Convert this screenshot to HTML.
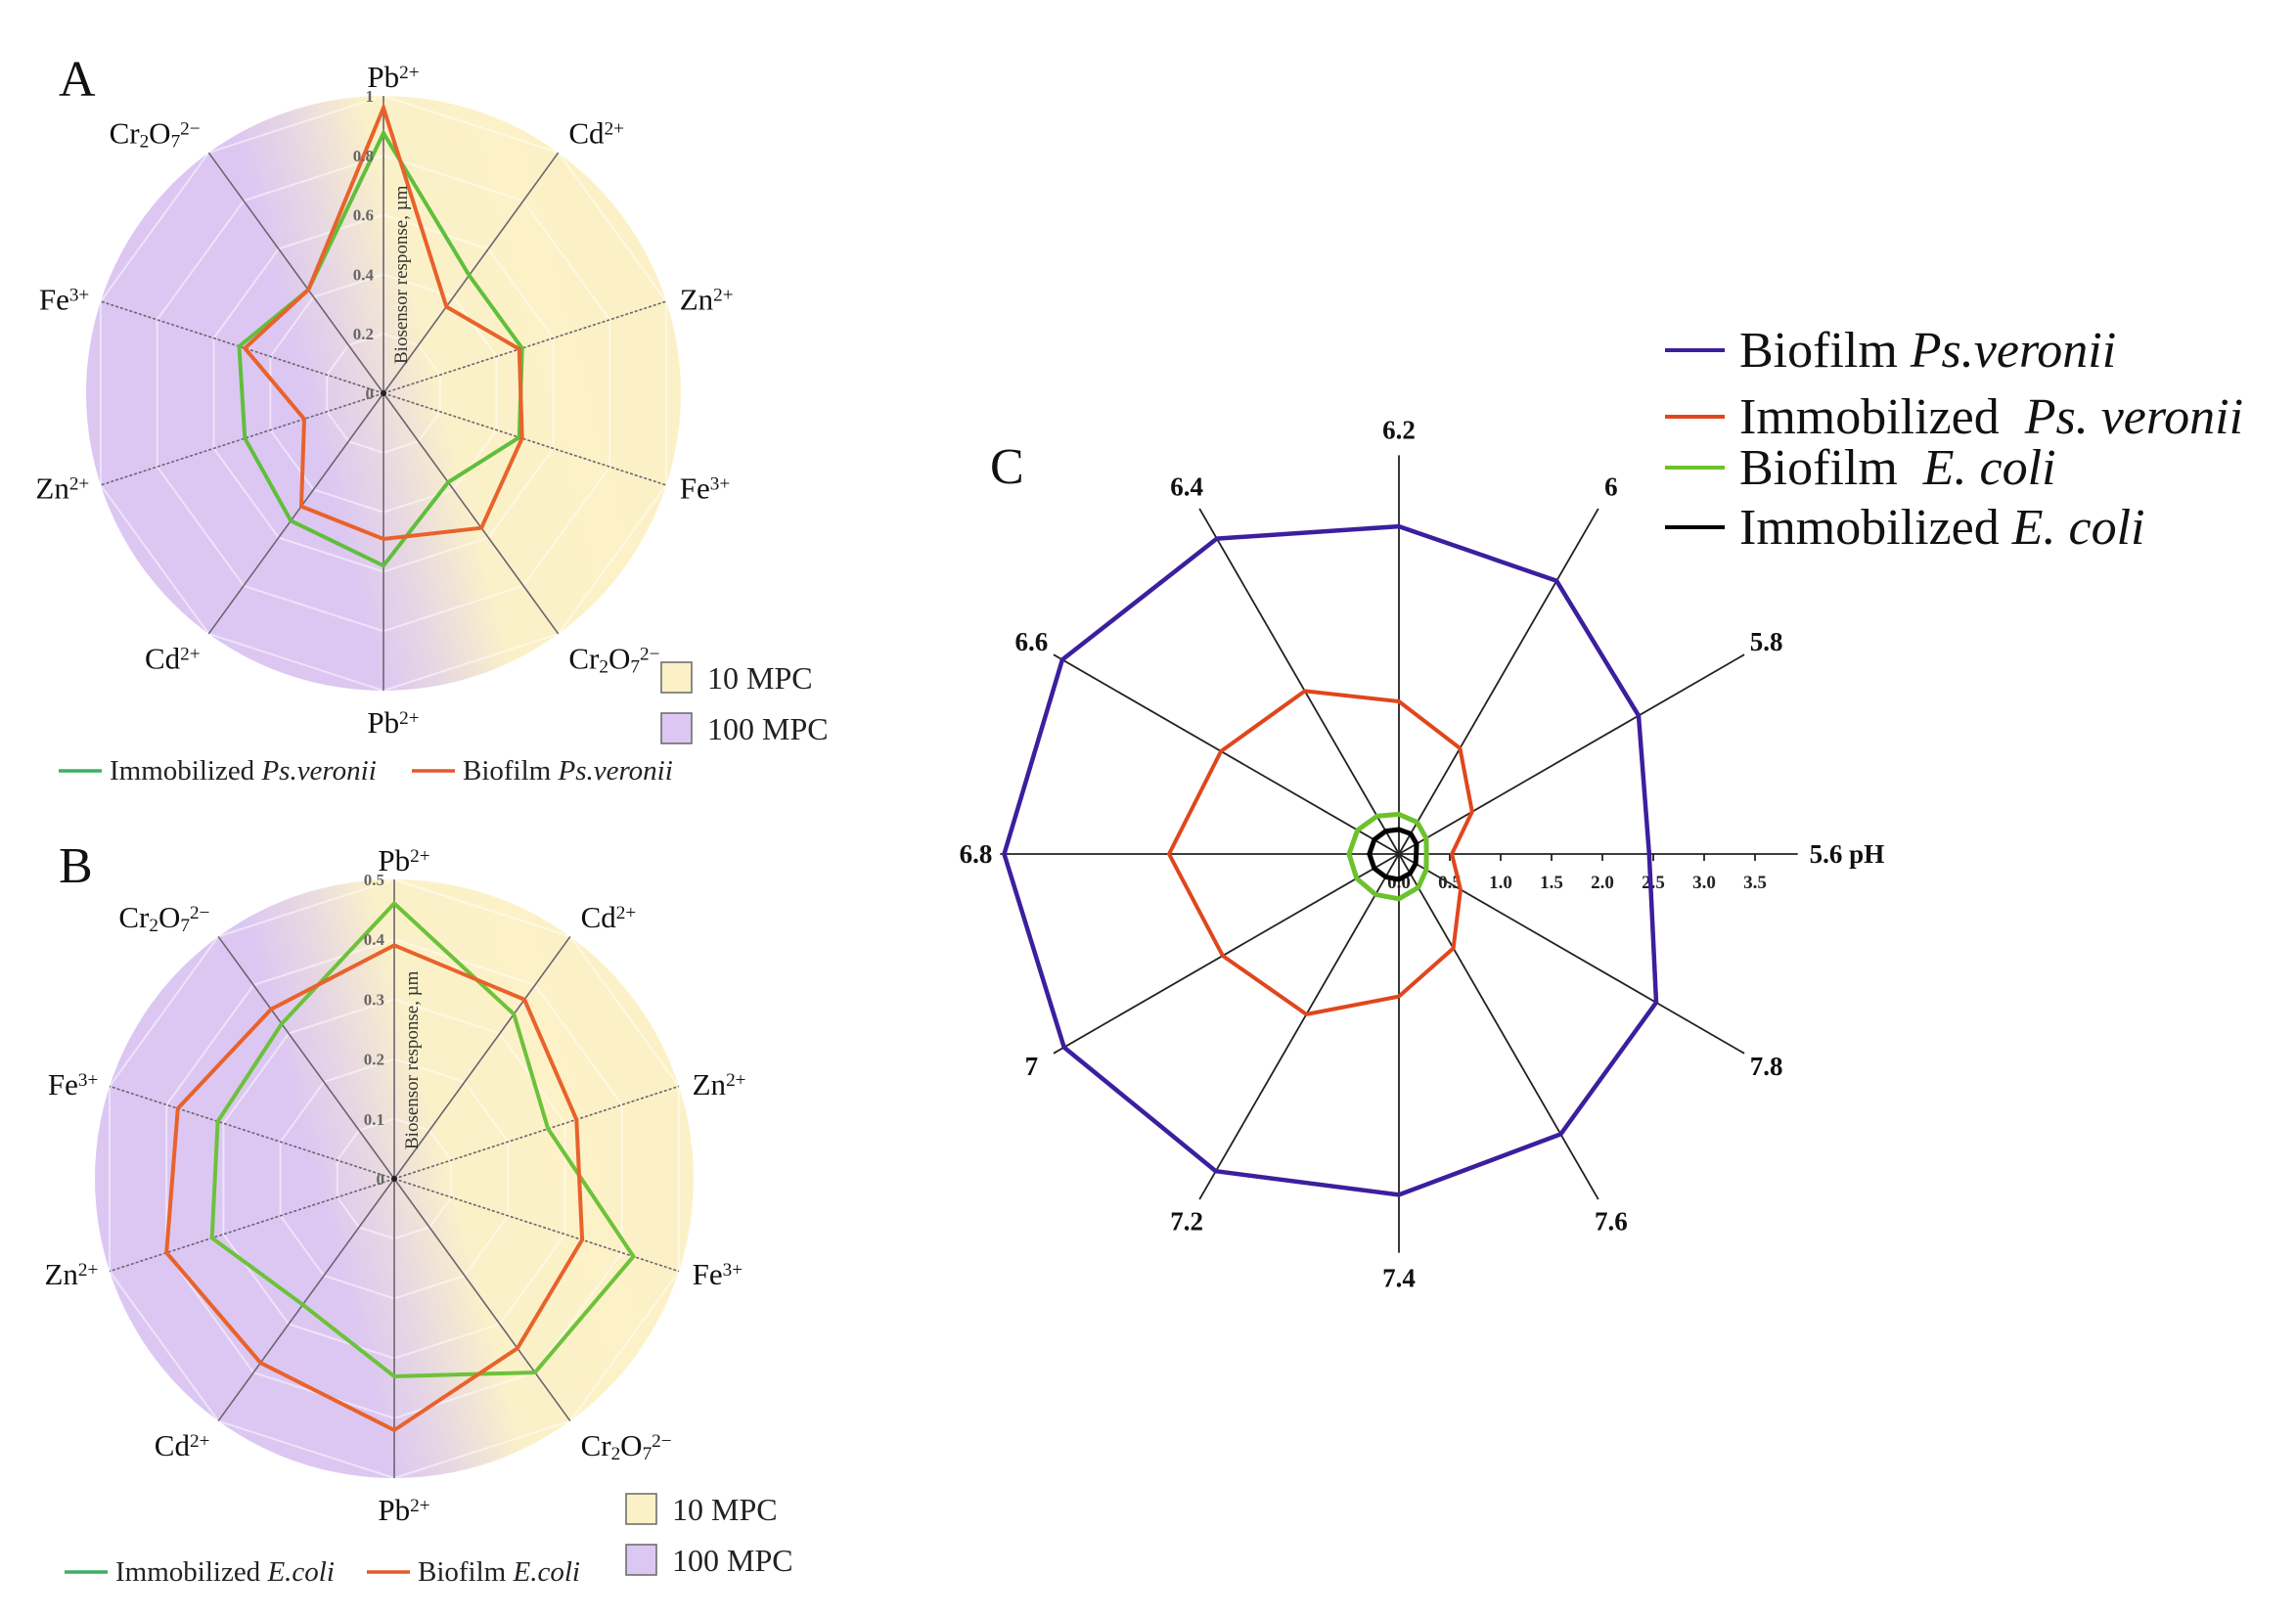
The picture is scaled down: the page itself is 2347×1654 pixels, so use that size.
<!DOCTYPE html>
<html><head><meta charset="utf-8"><style>
html,body{margin:0;padding:0;background:#fff;}
svg{display:block;font-family:"Liberation Serif","DejaVu Serif",serif;}
</style></head><body>
<svg id="root" width="2347" height="1654" viewBox="0 0 2347 1654" xmlns="http://www.w3.org/2000/svg">
<defs>
<linearGradient id="bgGrad" x1="0.05" y1="0.62" x2="0.95" y2="0.38">
<stop offset="0" stop-color="#dcc7f2"/>
<stop offset="0.36" stop-color="#dcc7f2"/>
<stop offset="0.46" stop-color="#e6d6e4"/>
<stop offset="0.6" stop-color="#fbf1c8"/>
<stop offset="1" stop-color="#fcf1c6"/>
</linearGradient>
</defs>
<g id="panelA"></g>
<g id="panelB"></g>
<g id="panelC"></g>
</svg>
<script>
// ---- Panel A data ----
const aCategories = ["Pb","Cd","Zn","Fe","Cr","Pb","Cd","Zn","Fe","Cr"];
const aImmobilized = [0.875,0.49,0.49,0.48,0.37,0.58,0.53,0.49,0.51,0.43];
const aBiofilm = [0.96,0.36,0.48,0.49,0.56,0.49,0.47,0.28,0.49,0.43];
const aTicks = ["0","0.2","0.4","0.6","0.8","1"];
const aMax = 1.0;
// ---- Panel B data ----
const bCategories = ["Pb","Cd","Zn","Fe","Cr","Pb","Cd","Zn","Fe","Cr"];
const bImmobilized = [0.46,0.34,0.27,0.42,0.40,0.33,0.26,0.32,0.31,0.32];
const bBiofilm = [0.39,0.37,0.32,0.33,0.35,0.42,0.38,0.40,0.38,0.35];
const bTicks = ["0","0.1","0.2","0.3","0.4","0.5"];
const bMax = 0.5;
// ---- Panel C data ----
const cCategories = ["5.6 pH","5.8","6","6.2","6.4","6.6","6.8","7","7.2","7.4","7.6","7.8"];
const cBiofilmPs = [2.46,2.72,3.1,3.22,3.58,3.82,3.88,3.8,3.6,3.35,3.18,2.92];
const cImmobPs = [0.52,0.83,1.2,1.5,1.85,2.02,2.26,2.0,1.82,1.4,1.07,0.7];
const cBiofilmEc = [0.27,0.31,0.36,0.39,0.43,0.47,0.49,0.48,0.46,0.44,0.38,0.31];
const cImmobEc = [0.17,0.2,0.23,0.24,0.26,0.28,0.29,0.28,0.26,0.25,0.22,0.19];
const cTicks = ["0.0","0.5","1.0","1.5","2.0","2.5","3.0","3.5"];

const NS = "http://www.w3.org/2000/svg";
function mk(tag, parent, attrs){
  const e = document.createElementNS(NS, tag);
  for (const k in attrs) e.setAttribute(k, attrs[k]);
  parent.appendChild(e);
  return e;
}
function ionLabel(parent, key, x, y, anchor, fs){
  const t = mk("text", parent, {x:x, y:y, "text-anchor":anchor, "font-size":fs, fill:"#111"});
  
  
  const sub = (s, kind)=>{ const ts = mk("tspan", t, {"font-size":fs*0.62, "baseline-shift": kind==="sub" ? "-22%" : "48%"}); ts.textContent = s; };
  const txt = (s)=>{ const ts = mk("tspan", t, {}); ts.textContent = s; };
  if (key==="Pb"){ txt("Pb"); sub("2+","sup"); }
  else if (key==="Cd"){ txt("Cd"); sub("2+","sup"); }
  else if (key==="Zn"){ txt("Zn"); sub("2+","sup"); }
  else if (key==="Fe"){ txt("Fe"); sub("3+","sup"); }
  else { txt("Cr"); sub("2","sub"); txt("O"); sub("7","sub"); sub("2\u2212","sup"); }
  return t;
}

function radarPanel(g, cx, cy, R, cats, maxV, ticks, s1, s2, c1, c2, letter, letterXY, leg){
  const n = cats.length;
  const ang = i => i * 2*Math.PI/n;
  const px = (i, v) => cx + R*(v/maxV)*Math.sin(ang(i));
  const py = (i, v) => cy - R*(v/maxV)*Math.cos(ang(i));
  const bg = mk("circle", g, {cx:cx, cy:cy, r:R, fill:"url(#bgGrad)"});
  
  
  for (let k=1;k<=5;k++){
    const pts = cats.map((c,i)=>px(i, maxV*k/5).toFixed(1)+","+py(i, maxV*k/5).toFixed(1)).join(" ");
    const ring = mk("polygon", g, {points:pts, fill:"none", stroke:"#ffffff", "stroke-opacity":"0.5", "stroke-width":2});
    
    
  }
  cats.forEach((c,i)=>{
    const dashed = (c==="Zn"||c==="Fe");
    const sp = mk("line", g, {x1:cx, y1:cy, x2:px(i,maxV), y2:py(i,maxV), stroke:"#6b6470", "stroke-width":1.6, "stroke-dasharray": dashed ? "3 2" : "none"});
    
    
  });
  [[s1,c1,'series-immobilized'],[s2,c2,'series-biofilm']].forEach(([arr,col,nm])=>{
    const pts = arr.map((v,i)=>px(i,v).toFixed(1)+","+py(i,v).toFixed(1)).join(" ");
    const pl = mk("polygon", g, {points:pts, fill:"none", stroke:col, "stroke-width":4, "stroke-linejoin":"miter"});
    
    
  });
  const dot = mk("circle", g, {cx:cx, cy:cy, r:3, fill:"#222"});
  
  
  ticks.forEach((t,k)=>{
    const v = maxV*k/(ticks.length-1);
    const tx = mk("text", g, {x:cx-10, y:cy - R*v/maxV + 6, "text-anchor":"end", "font-size":17, "font-weight":"bold", fill:"#666"});
    
    
    tx.textContent = t;
  });
  const title = mk("text", g, {x:0, y:0, "font-size":19, fill:"#333", transform:"translate("+(cx+24)+","+(cy-30)+") rotate(-90)"});
  
  
  title.textContent = "Biosensor response, \u00b5m";
  cats.forEach((c,i)=>{
    const a = ang(i), s = Math.sin(a), co = Math.cos(a);
    const lr = R + 8;
    let anchor = Math.abs(s) < 0.2 ? "middle" : (s>0 ? "start" : "end");
    let x = cx + lr*s, y = cy - lr*co + 11;
    if (Math.abs(s) < 0.2){ x += 10; y += (co>0 ? -12 : 24); }
    else { x += (s>0 ? 6 : -4); y += (co>0.5 ? -14 : (co<-0.5 ? 18 : 0)); }
    ionLabel(g, c, x, y, anchor, 31);
  });
  const L = mk("text", g, {x:letterXY[0], y:letterXY[1], "font-size":52, fill:"#111"});
  
  
  L.textContent = letter;
  [["#fcf1c6","10 MPC",0],["#dcc7f2","100 MPC",1]].forEach(([col,txt,k])=>{
    const r = mk("rect", g, {x:leg.bx, y:leg.by + k*52, width:31, height:31, fill:col, stroke:"#666", "stroke-width":1.5});
    
    
    const t = mk("text", g, {x:leg.bx+47, y:leg.by + k*52 + 27, "font-size":32, fill:"#222"});
    
    
    t.textContent = txt;
  });
  leg.items.forEach(it=>{
    const ln = mk("line", g, {x1:it.x, y1:leg.ly-9, x2:it.x+44, y2:leg.ly-9, stroke:it.col, "stroke-width":3.5});
    
    
    const t = mk("text", g, {x:it.x+52, y:leg.ly, "font-size":29, fill:"#222"});
    
    
    const a = mk("tspan", t, {}); a.textContent = it.a;
    const b = mk("tspan", t, {"font-style":"italic"}); b.textContent = it.b;
  });
}

radarPanel(document.getElementById("panelA"), 392, 402, 304, aCategories, aMax, aTicks,
  aImmobilized, aBiofilm, "#5fbf3c", "#e8622c", "A", [60,98],
  {bx:676, by:677, ly:797, items:[{x:60,col:"#3cb063",a:"Immobilized ",b:"Ps.veronii"},{x:421,col:"#e05a2c",a:"Biofilm ",b:"Ps.veronii"}]});

radarPanel(document.getElementById("panelB"), 403, 1205, 306, bCategories, bMax, bTicks,
  bImmobilized, bBiofilm, "#6cc23a", "#e8622c", "B", [60,902],
  {bx:640, by:1527, ly:1616, items:[{x:66,col:"#3cb063",a:"Immobilized ",b:"E.coli"},{x:375,col:"#e05a2c",a:"Biofilm ",b:"E.coli"}]});

(function(){
  const g = document.getElementById("panelC");
  const cx = 1430, cy = 873, U = 104, AX = 3.92;
  const n = cCategories.length;
  const th = i => i*2*Math.PI/n;
  const px = (i,v) => cx + U*v*Math.cos(th(i));
  const py = (i,v) => cy - U*v*Math.sin(th(i));
  cCategories.forEach((c,i)=>{
    const sp = mk("line", g, {x1:cx, y1:cy, x2:px(i,AX), y2:py(i,AX), stroke:"#222", "stroke-width":1.8});
    
    
    const c0 = Math.cos(th(i)), s0 = Math.sin(th(i));
    let anchor = "middle", x, y;
    if (i===0){ anchor="start"; x = px(i,AX)+12; y = cy+9; }
    else if (i===6){ anchor="end"; x = px(i,AX)-8; y = cy+9; }
    else { x = cx + (U*AX+26)*c0; y = cy - (U*AX+26)*s0 + 9; }
    const t = mk("text", g, {x:x, y:y, "text-anchor":anchor, "font-size":27, "font-weight":"bold", fill:"#111"});
    
    
    t.textContent = c;
  });
  cTicks.forEach((t,k)=>{
    const v = k*0.5;
    const x = cx + U*v;
    if (k>0){
      const tk = mk("line", g, {x1:x, y1:cy, x2:x, y2:cy+7, stroke:"#222", "stroke-width":1.8});
      
      
    }
    const tx = mk("text", g, {x:x, y:cy+35, "text-anchor":"middle", "font-size":19, "font-weight":"bold", fill:"#222"});
    
    
    tx.textContent = t;
  });
  const series = [
    [cBiofilmPs, "#3b1f9e", 4.5, 'series-biofilm-ps-veronii'],
    [cImmobPs, "#e0461c", 4, 'series-immobilized-ps-veronii'],
    [cBiofilmEc, "#6cc22a", 5, 'series-biofilm-e-coli'],
    [cImmobEc, "#000000", 5, 'series-immobilized-e-coli']];
  series.forEach(([arr,col,w,nm])=>{
    const pts = arr.map((v,i)=>px(i,v).toFixed(1)+","+py(i,v).toFixed(1)).join(" ");
    const pl = mk("polygon", g, {points:pts, fill:"none", stroke:col, "stroke-width":w, "stroke-linejoin":"round"});
    
    
  });
  const L = mk("text", g, {x:1012, y:494, "font-size":52, fill:"#111"});
  
  
  L.textContent = "C";
  const legend = [["#3b1f9e","Biofilm ","Ps.veronii",358],["#e0461c","Immobilized  ","Ps. veronii",426],["#6cc22a","Biofilm  ","E. coli",478],["#000000","Immobilized ","E. coli",539]];
  legend.forEach(([col,a,b,y])=>{
    const ln = mk("line", g, {x1:1702, y1:y, x2:1763, y2:y, stroke:col, "stroke-width":4});
    
    
    const t = mk("text", g, {x:1778, y:y+17, "font-size":52, fill:"#111", "xml:space":"preserve"});
    
    
    t.setAttribute('style', 'white-space:pre');
    const s1 = mk("tspan", t, {}); s1.textContent = a;
    const s2 = mk("tspan", t, {"font-style":"italic"}); s2.textContent = b;
  });
})();
</script>
</body></html>
